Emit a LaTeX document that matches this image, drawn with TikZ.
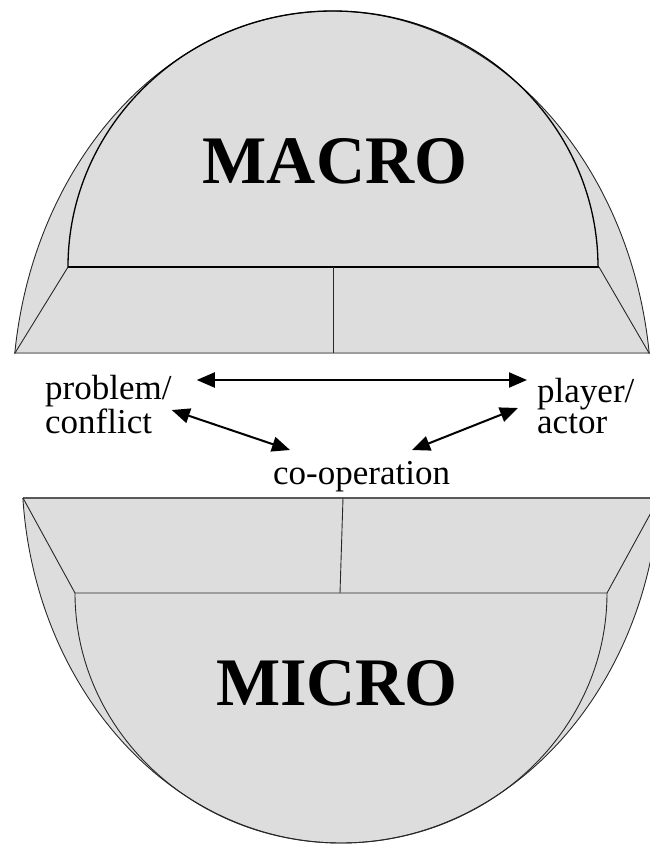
\documentclass[tikz,border=0pt]{standalone}
\usepackage{fontspec}
\setmainfont{Liberation Serif}
\usepackage{xcolor}
\usetikzlibrary{arrows.meta,calc}

\definecolor{shellgray}{RGB}{221,221,221}
\definecolor{edgegray}{RGB}{40,40,40}
\tikzset{
    shell/.style={fill=shellgray, draw=edgegray, line width=0.9pt},
    rim/.style={draw=black, line width=1.3pt},
    link/.style={line width=2pt, {Triangle[length=18pt,width=15pt]}-{Triangle[length=18pt,width=15pt]}},
    lbl/.style={inner sep=0pt, align=left, font=\fontsize{35}{31}\selectfont},
    big/.style={inner sep=0pt, font=\fontsize{68}{70}\selectfont\bfseries}
}

\begin{document}
\begin{tikzpicture}[x=1pt, y=-1pt]
    \useasboundingbox (0,0) rectangle (650,847);

    % Upper half (macro)
    \begin{scope}
        \clip (0,0) rectangle (650,353);
        \filldraw [shell] (332,400) ellipse [x radius=319.5, y radius=389];
    \end{scope}
    \begin{scope}
        \clip (0,0) rectangle (650,267);
        \draw [rim] (333,267) ellipse [x radius=265, y radius=256];
    \end{scope}
    \draw [rim] (68,267) -- (599,267);
    \draw [shell, fill=none] (68,267) -- (15,353) -- (649,353) -- (599,267);
    \draw [shell, fill=none] (333,267) -- (333,353);
    \node [big, anchor=base] (macro) at (335,183) {MACRO};

    % Lower half (micro)
    \begin{scope}
        \clip (0,498) rectangle (650,847);
        \filldraw [shell] (341,470) ellipse [x radius=319, y radius=373];
    \end{scope}
    \begin{scope}
        \clip (0,593) rectangle (650,847);
        \draw [shell, fill=none] (341,593) ellipse [x radius=266, y radius=250];
    \end{scope}
    \draw [draw=black!65, line width=1.1pt] (23,498) -- (650,498);
    \draw [shell, fill=none] (23,498) -- (75,593) -- (607,593) -- (659,498);
    \draw [shell, fill=none] (343,498) -- (340,593);
    \node [big, anchor=base] (micro) at (337,705) {MICRO};

    % Labels (base = last line)
    \node [lbl, anchor=base west] (problem) at (45,433) {problem/\\conflict};
    \node [lbl, anchor=base west] (player) at (537,433) {player/\\actor};
    \node [lbl, anchor=base west] (coop) at (273,484) {co-operation};

    % Arrows
    \draw [link] ([shift={(25,-53)}]problem.base east) -- ([shift={(-10,-53)}]player.base west);
    \draw [link] ([shift={(0,-23)}]problem.base east) -- ([shift={(17,-34)}]coop.base west);
    \draw [link] ([shift={(139,-34)}]coop.base west) -- ([shift={(-19,-25)}]player.base west);
\end{tikzpicture}
\end{document}
